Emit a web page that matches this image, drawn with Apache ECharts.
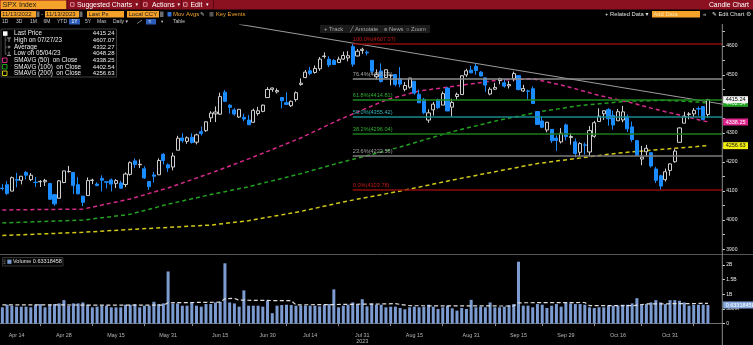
<!DOCTYPE html>
<html>
<head>
<meta charset="utf-8">
<title>SPX Index - Candle Chart</title>
<script src="https://cdn.jsdelivr.net/npm/echarts@6/dist/echarts.min.js"></script>
<style>
  html, body { margin: 0; padding: 0; background: #000; overflow: hidden; }
  #chart { width: 753px; height: 345px; }
</style>
</head>
<body>
<div id="chart"></div>
<script>
// ---------------------------------------------------------------------------
// Sessions (2023, month/day). The last three slots stay empty at the right edge.
const days = [
  '4/11','4/12','4/13','4/14','4/17','4/18','4/19','4/20','4/21','4/24','4/25','4/26','4/27','4/28',
  '5/1','5/2','5/3','5/4','5/5','5/8','5/9','5/10','5/11','5/12','5/15','5/16','5/17','5/18','5/19','5/22','5/23','5/24','5/25','5/26','5/30','5/31',
  '6/1','6/2','6/5','6/6','6/7','6/8','6/9','6/12','6/13','6/14','6/15','6/16','6/20','6/21','6/22','6/23','6/26','6/27','6/28','6/29','6/30',
  '7/3','7/5','7/6','7/7','7/10','7/11','7/12','7/13','7/14','7/17','7/18','7/19','7/20','7/21','7/24','7/25','7/26','7/27','7/28','7/31',
  '8/1','8/2','8/3','8/4','8/7','8/8','8/9','8/10','8/11','8/14','8/15','8/16','8/17','8/18','8/21','8/22','8/23','8/24','8/25','8/28','8/29','8/30','8/31',
  '9/1','9/5','9/6','9/7','9/8','9/11','9/12','9/13','9/14','9/15','9/18','9/19','9/20','9/21','9/22','9/25','9/26','9/27','9/28','9/29',
  '10/2','10/3','10/4','10/5','10/6','10/9','10/10','10/11','10/12','10/13','10/16','10/17','10/18','10/19','10/20','10/23','10/24','10/25','10/26','10/27','10/30','10/31',
  '11/1','11/2','11/3','11/6','11/7','11/8','11/9','11/10',
  '11/13','11/14','11/15'
];

// Daily OHLC, one value per traded session
const opens = [
  4110.29,4121.72,4100.04,4140.11,4137.17,4164.26,4139.33,4130.48,4132.14,4132.07,4126.43,4087.78,4075.29,4129.63,
  4166.79,4164.10,4122.25,4082.61,4084.73,4136.98,4124.25,4143.74,4132.24,4138.54,4126.65,4127.95,4122.85,4157.68,4204.15,4190.78,4176.80,4132.96,4155.71,4156.16,4226.71,4190.74,
  4183.03,4241.01,4282.99,4271.34,4285.47,4268.69,4304.88,4308.32,4352.61,4366.29,4365.33,4440.95,4396.11,4380.01,4355.40,4354.17,4344.84,4337.36,4367.48,4374.94,4422.44,
  4450.48,4442.04,4422.62,4404.54,4394.23,4415.55,4467.69,4491.50,4514.61,4508.86,4521.78,4563.87,4554.38,4550.16,4543.39,4555.19,4558.96,4598.26,4565.75,4584.82,
  4578.83,4550.93,4494.27,4513.96,4491.58,4498.03,4501.57,4487.16,4450.69,4458.13,4478.87,4433.79,4416.32,4344.88,4380.28,4415.33,4396.44,4455.16,4389.38,4426.03,4432.75,4500.34,4517.01,
  4530.60,4510.06,4490.35,4434.55,4451.30,4480.98,4473.27,4462.65,4487.78,4497.98,4445.13,4445.41,4452.81,4374.36,4341.74,4310.62,4312.88,4282.63,4269.65,4328.18,
  4284.52,4269.75,4233.83,4259.31,4234.79,4289.02,4339.75,4366.59,4380.94,4360.49,4342.37,4345.23,4357.35,4321.36,4273.85,4210.40,4235.79,4232.42,4175.99,4152.93,4139.39,4171.33,
  4201.27,4268.26,4334.23,4364.27,4366.21,4384.37,4391.41,4364.15
];
const highs = [
  4124.26,4134.37,4150.26,4163.19,4151.72,4169.48,4162.57,4148.57,4138.02,4142.41,4126.43,4089.67,4138.24,4170.06,
  4186.92,4164.10,4148.30,4082.61,4147.02,4142.30,4130.35,4154.28,4132.80,4143.74,4141.25,4135.54,4164.67,4202.20,4212.91,4209.22,4185.68,4132.96,4165.74,4212.87,4231.10,4195.44,
  4232.43,4290.67,4299.28,4288.33,4299.19,4298.01,4322.62,4340.13,4375.37,4391.82,4439.20,4448.47,4400.15,4386.22,4382.25,4366.55,4362.06,4384.42,4390.35,4398.39,4458.48,
  4456.46,4454.06,4422.62,4440.39,4412.60,4443.64,4488.34,4517.38,4527.76,4532.85,4562.30,4578.43,4564.74,4555.00,4563.41,4580.62,4582.47,4607.07,4590.16,4594.22,
  4584.62,4550.93,4519.49,4540.34,4519.84,4503.31,4502.44,4527.37,4476.23,4490.33,4478.87,4449.95,4421.17,4381.82,4407.55,4418.59,4443.18,4458.30,4418.46,4439.56,4500.14,4521.65,4532.26,
  4541.25,4514.29,4490.35,4457.81,4473.53,4490.77,4487.11,4479.39,4511.99,4497.98,4466.36,4449.85,4461.03,4375.70,4357.40,4338.51,4313.01,4292.07,4317.27,4333.15,
  4300.58,4281.15,4268.50,4267.13,4324.10,4341.73,4385.46,4378.64,4385.85,4377.10,4383.33,4393.57,4364.20,4339.54,4276.56,4255.84,4259.38,4232.42,4183.60,4156.70,4177.47,4195.55,
  4245.64,4319.72,4373.62,4372.21,4386.26,4391.20,4393.40,4418.03
];
const lows = [
  4102.61,4086.94,4099.40,4113.20,4123.18,4140.36,4134.49,4114.57,4113.86,4117.77,4071.38,4049.35,4075.29,4127.18,
  4164.12,4089.72,4088.86,4048.28,4084.73,4123.81,4116.65,4098.92,4109.29,4099.12,4110.27,4109.86,4113.62,4153.50,4180.20,4179.68,4142.54,4103.98,4129.73,4156.16,4192.18,4166.15,
  4171.64,4241.01,4266.82,4263.09,4263.96,4261.07,4291.70,4304.37,4337.71,4337.85,4362.60,4407.44,4367.19,4360.14,4351.82,4341.34,4328.08,4335.00,4360.22,4371.97,4422.44,
  4442.29,4436.61,4385.05,4397.40,4389.92,4408.46,4463.23,4489.36,4499.56,4504.90,4514.59,4557.48,4527.56,4535.79,4541.29,4552.42,4547.58,4528.56,4564.01,4573.14,
  4567.53,4505.75,4485.54,4474.55,4491.15,4464.39,4461.33,4457.92,4443.98,4453.44,4432.19,4403.55,4364.83,4335.31,4360.30,4382.77,4396.44,4375.55,4356.29,4414.98,4431.68,4493.59,4507.39,
  4501.35,4496.01,4442.38,4430.46,4448.38,4467.89,4456.83,4453.52,4478.69,4447.21,4442.11,4416.61,4401.38,4329.17,4316.49,4302.70,4265.98,4238.63,4264.38,4274.86,
  4260.21,4216.45,4220.48,4225.91,4219.55,4283.79,4339.64,4345.34,4325.43,4311.97,4342.37,4337.54,4303.84,4269.69,4223.03,4189.22,4219.43,4181.42,4127.90,4103.78,4132.94,4153.12,
  4197.74,4268.26,4334.23,4347.53,4355.41,4359.76,4343.94,4353.34
];
const closes = [
  4108.94,4091.95,4146.22,4137.64,4151.32,4154.87,4154.52,4129.79,4133.52,4137.04,4071.63,4055.99,4135.35,4169.48,
  4167.87,4119.58,4090.75,4061.22,4136.25,4138.12,4119.17,4137.64,4130.62,4124.08,4136.28,4109.90,4158.77,4198.05,4191.98,4192.63,4145.58,4115.24,4151.28,4205.45,4205.52,4179.83,
  4221.02,4282.37,4273.79,4283.85,4267.52,4293.93,4298.86,4338.93,4369.01,4372.59,4425.84,4409.59,4388.71,4365.69,4381.89,4348.33,4328.82,4378.41,4376.86,4396.44,4450.38,
  4455.59,4446.82,4411.59,4398.95,4409.53,4439.26,4472.16,4510.04,4505.42,4522.79,4554.98,4565.72,4534.87,4536.34,4554.64,4567.46,4566.75,4537.41,4582.23,4588.96,
  4576.73,4513.39,4501.89,4478.03,4518.44,4499.38,4467.71,4468.83,4464.05,4489.72,4437.86,4404.33,4370.36,4369.71,4399.77,4387.55,4436.01,4376.31,4405.71,4433.31,4497.63,4514.87,4507.66,
  4515.77,4496.83,4465.48,4451.14,4457.49,4487.46,4461.90,4467.44,4505.10,4450.32,4453.53,4443.95,4402.20,4330.00,4320.06,4337.44,4273.53,4274.51,4299.70,4288.05,
  4288.39,4229.45,4263.75,4258.19,4308.50,4335.66,4358.24,4376.95,4349.61,4327.78,4373.63,4373.20,4314.60,4278.00,4224.16,4217.04,4247.68,4186.77,4137.23,4117.37,4166.82,4193.80,
  4237.86,4317.78,4358.34,4365.98,4378.38,4382.78,4347.35,4415.24
];

// Session volume, billions
const volumes = [
  0.556,0.644,0.611,0.578,0.578,0.578,0.556,0.644,0.667,0.556,0.644,0.667,0.689,0.800,
  0.611,0.689,0.689,0.722,0.644,0.556,0.578,0.611,0.611,0.556,0.556,0.556,0.644,0.644,0.667,0.556,0.611,0.611,0.744,0.667,0.689,1.778,
  0.689,0.689,0.611,0.611,0.722,0.611,0.578,0.667,0.667,0.722,0.744,2.056,0.722,0.689,0.578,1.133,0.611,0.611,0.611,0.578,0.778,
  0.356,0.611,0.633,0.644,0.633,0.611,0.611,0.611,0.611,0.611,0.589,0.644,0.667,1.167,0.556,0.611,0.644,0.722,0.667,0.833,
  0.589,0.689,0.644,0.644,0.556,0.578,0.578,0.533,0.489,0.556,0.578,0.556,0.578,0.644,0.578,0.500,0.556,0.611,0.522,0.444,0.533,0.500,0.811,
  0.556,0.578,0.556,0.722,0.556,0.556,0.578,0.633,0.667,2.111,0.611,0.611,0.556,0.667,0.644,0.533,0.611,0.667,0.578,0.722,
  0.689,0.667,0.667,0.644,0.556,0.533,0.556,0.556,0.611,0.611,0.611,0.644,0.644,0.689,0.867,0.644,0.667,0.722,0.800,0.722,0.667,0.800,
  0.800,0.778,0.722,0.611,0.644,0.644,0.644,0.63318458
];

// Simple moving averages on close (sampled sessions)
const sma50 = [
  ['4/11',4035],['5/4',4038],['5/18',4073],['5/31',4111],['6/13',4162],['6/26',4211],['7/12',4283],
  ['7/24',4345],['8/7',4414],['8/16',4445],['9/11',4483],['9/20',4487],['9/28',4466],['10/10',4430],
  ['10/19',4404],['10/25',4386],['11/2',4362],['11/10',4338.25]
];
const sma100 = [
  ['4/11',3990],['5/4',4000],['5/18',4020],['5/31',4055],['6/13',4088],['6/26',4115],['7/12',4160],
  ['7/24',4197],['8/10',4252],['8/25',4305],['9/11',4345],['9/22',4375],['10/4',4395],['10/18',4410],
  ['10/30',4413],['11/8',4407],['11/10',4402.54]
];
const sma200 = [
  ['4/11',3947],['5/4',3958],['5/18',3968],['5/31',3975],['6/13',3983],['6/26',3998],['7/12',4030],
  ['7/26',4066],['8/10',4100],['8/25',4138],['9/11',4170],['9/21',4195],['10/2',4210],['10/16',4231],
  ['10/30',4245],['11/10',4256.63]
];
// Volume moving average (sampled sessions)
const volumeAvg = [
  ['4/11',0.64],['4/25',0.64],['5/9',0.63],['5/30',0.63],['5/31',0.71],['6/15',0.73],['6/16',0.85],
  ['6/21',0.86],['6/22',0.80],['7/10',0.78],['7/11',0.64],['7/21',0.65],['8/4',0.67],['8/9',0.68],
  ['8/14',0.61],['9/14',0.60],['9/15',0.71],['10/5',0.72],['10/6',0.61],['10/19',0.61],['10/24',0.67],
  ['11/10',0.69]
];

// Fibonacci retracement between the 7/27 high and the 10/27 low
const fibStart = '7/27';
const fibPct = [100, 76.4, 61.8, 50, 38.2, 23.6, 0];
const fibLevel = [4607.07, 4488.29, 4414.81, 4355.42, 4296.04, 4222.56, 4103.78];

// Falling trend line drawn from the summer highs
const trendLine = [['6/22', 4675], ['11/15', 4400]];

// Statistics panel
const averagePrice = 4332.27;

// Axis labelling
const labelDays = ['4/14','4/28','5/15','5/31','6/15','6/30','7/14','7/31','8/15','8/31','9/15','9/29','10/16','10/31'];
const tickDays = ['4/21','5/8','5/23','6/7','6/22','7/7','7/24','8/8','8/23','9/8','9/22','10/9','10/23','11/7'];
const yearDay = '7/31';
const yearText = '2023';
const priceLabels = [3900, 4000, 4100, 4200, 4300, 4400, 4500, 4600];
const priceTicks = [3900, 3950, 4000, 4050, 4100, 4150, 4200, 4250, 4300, 4350, 4400, 4450, 4500, 4550, 4600, 4650];
const volumeLabels = [0, 0.5, 1, 1.5, 2];
const volumeLabelText = ['0', '500M', '1B', '1.5B', '2B'];

// ---------------------------------------------------------------------------
const UI_FONT = '"Liberation Sans", "DejaVu Sans", sans-serif';
const MONTHS = ['Jan','Feb','Mar','Apr','May','Jun','Jul','Aug','Sep','Oct','Nov','Dec'];
const edgeDay = days[days.length - 1];
const n = closes.length;

const candles = closes.map((c, i) => [opens[i], c, lows[i], highs[i]]);
const lastClose = closes[n - 1];
let hiIdx = 0, loIdx = 0;
highs.forEach((h, i) => { if (h > highs[hiIdx]) hiIdx = i; });
lows.forEach((l, i) => { if (l < lows[loIdx]) loIdx = i; });
const mmddyy = d => { const [m, dd] = d.split('/'); return m.padStart(2, '0') + '/' + dd.padStart(2, '0') + '/23'; };
const last = arr => arr[arr.length - 1][1];

const labelSet = new Set(labelDays);
const tickSet = new Set(tickDays);

const fibLineColor = ['#8e0b0b', '#8c8c8c', '#1d8a1d', '#178a8a', '#1d7d1d', '#7c7c7c', '#8e0b0b'];
const fibTextColor = ['#c41a1a', '#a8a8a8', '#2cb02c', '#2fb5b5', '#2cb02c', '#a0a0a0', '#c41a1a'];

const fibLines = fibLevel.map((v, i) => [
  { coord: [fibStart, v], lineStyle: { color: fibLineColor[i], width: 1.6, type: 'solid' },
    label: { show: true, position: 'insideStartTop', distance: [0, 1.5],
      formatter: fibPct[i].toFixed(1) + '%(' + v.toFixed(2) + ')',
      color: fibTextColor[i], fontSize: 5.6, fontFamily: UI_FONT } },
  { coord: [edgeDay, v] }
]);

function edgeTag(value, text, bg, fg, z) {
  return {
    symbol: 'rect', symbolSize: 0, silent: true, z: z,
    label: { show: true, position: 'right', distance: 1, formatter: '{b}',
      backgroundColor: bg, color: fg, fontSize: 5.5, fontFamily: UI_FONT,
      padding: [1, 2.5, 0.5, 2.5], lineHeight: 5.5 },
    data: [{ coord: [edgeDay, value], name: text }]
  };
}

// ---------------------------------------------------------------------------
// Terminal chrome: title bar, controls, statistics panel
function txt(x, y, s, color, size, align) {
  return { type: 'text', x: x, y: y, silent: true, z: 100,
    style: { text: s, fill: color, font: size + 'px ' + UI_FONT,
      textAlign: align || 'left', textVerticalAlign: 'middle' } };
}
function box(x, y, w, h, fill, stroke, lw) {
  return { type: 'rect', silent: true, z: 100, shape: { x: x, y: y, width: w, height: h },
    style: { fill: fill, stroke: stroke || null, lineWidth: stroke ? (lw || 1) : 0 } };
}
function seg(x1, y1, x2, y2, color, w) {
  return { type: 'line', silent: true, z: 100, shape: { x1: x1, y1: y1, x2: x2, y2: y2 },
    style: { stroke: color, lineWidth: w || 1 } };
}

const ORANGE = '#f5a22a';
const graphics = [
  // title bar
  box(0, 0, 753, 9.5, '#8b1121'),
  box(0.5, 0.5, 66, 8.5, ORANGE),
  txt(2.5, 5, 'SPX Index', '#1a1a1a', 7.2),
  seg(67, 0, 67, 9.5, '#5a0812'), seg(141, 0, 141, 9.5, '#5a0812'),
  seg(181.5, 0, 181.5, 9.5, '#5a0812'), seg(213.5, 0, 213.5, 9.5, '#5a0812'),
  box(70.5, 2.7, 3.6, 3.6, null, '#e9a5ad', 0.8), txt(77, 5, 'Suggested Charts', '#ffffff', 6.9), txt(135.5, 5, '\u25BE', '#ffffff', 5),
  box(143.5, 2.7, 3.6, 3.6, null, '#e9a5ad', 0.8), txt(152, 5, 'Actions', '#ffffff', 6.9), txt(177.5, 5, '\u25BE', '#ffffff', 5),
  box(183.5, 2.7, 3.6, 3.6, null, '#e9a5ad', 0.8), txt(190.5, 5, 'Edit', '#ffffff', 6.9), txt(206, 5, '\u25BE', '#ffffff', 5),
  txt(749, 5, 'Candle Chart', '#ffffff', 6.8, 'right'),
  // control row
  box(1, 11, 35, 6.5, ORANGE), txt(2, 14.3, '11/13/2022', '#1a1a1a', 6),
  box(36.5, 11.5, 3, 5.5, '#6c6c6c'), txt(41, 14.3, '-', '#cccccc', 6),
  box(45, 11, 34, 6.5, ORANGE), txt(46, 14.3, '11/13/2023', '#1a1a1a', 6),
  box(79.5, 11.5, 3, 5.5, '#6c6c6c'),
  box(87, 11, 37, 6.5, ORANGE), txt(88.5, 14.3, 'Last Px', '#1a1a1a', 6),
  box(127, 11, 32, 6.5, ORANGE), txt(128.5, 14.3, 'Local CCY', '#1a1a1a', 6),
  box(160, 11.5, 3.5, 5.5, '#6c6c6c'),
  box(167.5, 12, 4, 4.5, '#2f6fd6'), txt(173, 14.3, 'Mov Avgs', ORANGE, 6), txt(200, 14.3, '\u270E', '#dddddd', 5.5),
  box(209.5, 12, 4, 4.5, '#555555'), txt(216, 14.3, 'Key Events', ORANGE, 5.8),
  txt(605, 14.3, '+ Related Data \u25BE', '#e0e0e0', 5.8),
  box(652, 11, 48, 6.5, ORANGE), txt(653.5, 14.3, 'Add Data', '#ffe2a8', 5.8),
  txt(703, 14.3, '\u00AB', '#cccccc', 6),
  txt(712, 14.3, '\u270E Edit Chart', '#e0e0e0', 5.8),
  txt(746, 14.3, '\u2699', '#cccccc', 6),
  // range row
  txt(2, 21.7, '1D', '#c8c8c8', 5), txt(16, 21.7, '3D', '#c8c8c8', 5), txt(30, 21.7, '1M', '#c8c8c8', 5),
  txt(43.5, 21.7, '6M', '#c8c8c8', 5), txt(57, 21.7, 'YTD', '#c8c8c8', 5),
  box(69, 19, 11, 5.5, '#2a5cb8'), txt(71.5, 21.7, '1Y', '#ffffff', 5),
  txt(85, 21.7, '5Y', '#c8c8c8', 5), txt(97, 21.7, 'Max', '#c8c8c8', 5), txt(113, 21.7, 'Daily \u25BE', '#c8c8c8', 5),
  seg(137, 23.5, 142, 20, '#9a9a9a', 0.8),
  box(146, 19, 10, 5.5, '#2a5cb8'), txt(148.5, 21.7, '\u2248', '#ffffff', 5),
  txt(161, 21.7, '\u25BE', '#c8c8c8', 4.5), txt(173, 21.7, 'Table', '#c8c8c8', 5),
  // chart toolbar
  box(320, 25, 110, 8, '#1b1b1b'),
  txt(324, 29, '+ Track', '#a8a8a8', 5.8), txt(350, 29, '\u2571 Annotate', '#a8a8a8', 5.8),
  txt(384, 29, '\u2261 News', '#a8a8a8', 5.8), txt(406, 29, '\u25CB Zoom', '#a8a8a8', 5.8),
  // pane separator and price scale spine
  seg(0, 254.5, 753, 254.5, '#555555'),
  seg(722.3, 24, 722.3, 345, '#8a8a8a'),
  // statistics panel
  box(1, 29, 115.5, 48, '#000000', '#3c3c3c'),
  box(3, 31.3, 4.5, 4.5, '#ffffff'),
  seg(5.2, 36, 5.2, 54.5, '#6a6a6a', 0.8),
  seg(5.2, 40, 7, 40, '#6a6a6a', 0.8), seg(7, 38, 11, 38, '#bbbbbb', 0.8), seg(9, 38, 9, 42, '#bbbbbb', 0.8),
  seg(5.2, 47, 7, 47, '#6a6a6a', 0.8), seg(7.5, 47, 10.5, 47, '#bbbbbb', 0.8), seg(9, 45.5, 9, 48.5, '#bbbbbb', 0.8),
  seg(5.2, 54, 7, 54, '#6a6a6a', 0.8), seg(9, 51.5, 9, 55.5, '#bbbbbb', 0.8), seg(7, 55.5, 11, 55.5, '#bbbbbb', 0.8),
  box(2.5, 58, 4.5, 4.5, null, '#d62a8a', 1),
  box(2.5, 64.5, 4.5, 4.5, null, '#22a022', 1),
  box(2.5, 71, 4.5, 4.5, null, '#d2c816', 1),
  txt(14, 33.5, 'Last Price', '#ececec', 6.3), txt(114.5, 33.5, lastClose.toFixed(2), '#ececec', 6, 'right'),
  txt(14, 40.2, 'High on ' + mmddyy(days[hiIdx]), '#ececec', 6.3), txt(114.5, 40.2, highs[hiIdx].toFixed(2), '#ececec', 6, 'right'),
  txt(14, 46.9, 'Average', '#ececec', 6.3), txt(114.5, 46.9, averagePrice.toFixed(2), '#ececec', 6, 'right'),
  txt(14, 53.6, 'Low on ' + mmddyy(days[loIdx]), '#ececec', 6.3), txt(114.5, 53.6, lows[loIdx].toFixed(2), '#ececec', 6, 'right'),
  txt(14, 60.3, 'SMAVG (50)  on Close', '#ececec', 6.3), txt(114.5, 60.3, last(sma50).toFixed(2), '#ececec', 6, 'right'),
  txt(14, 67, 'SMAVG (100)  on Close', '#ececec', 6.3), txt(114.5, 67, last(sma100).toFixed(2), '#ececec', 6, 'right'),
  txt(14, 73.7, 'SMAVG (200)  on Close', '#ececec', 6.3), txt(114.5, 73.7, last(sma200).toFixed(2), '#ececec', 6, 'right'),
  // volume panel caption
  box(2.5, 257.5, 60.5, 8.5, '#060606', '#333333'),
  seg(3.5, 260, 5.5, 260, '#888888', 0.7), seg(3.5, 261.8, 5.5, 261.8, '#888888', 0.7), seg(3.5, 263.6, 5.5, 263.6, '#888888', 0.7),
  box(7.3, 259.6, 4.2, 4.2, '#7d9dd2'),
  txt(13, 261.8, 'Volume ' + volumes[n - 1], '#e0e0e0', 5.5)
];

// ---------------------------------------------------------------------------
const chart = echarts.init(document.getElementById('chart'), null, { renderer: 'canvas', width: 753, height: 345 });

const option = {
  backgroundColor: '#000000',
  animation: false,
  textStyle: { fontFamily: UI_FONT },
  grid: [
    { left: -0.6, right: 28.5, top: 25, height: 229 },
    { left: -0.6, right: 28.5, top: 257, height: 74 }
  ],
  xAxis: [
    { type: 'category', gridIndex: 0, data: days, boundaryGap: true,
      axisLine: { show: false }, axisTick: { show: false }, axisLabel: { show: false }, splitLine: { show: false } },
    { type: 'category', gridIndex: 1, data: days, boundaryGap: true,
      axisLine: { show: true, lineStyle: { color: '#6e6e6e', width: 1 } },
      axisTick: { show: true, alignWithLabel: true, length: 2.5, lineStyle: { color: '#8a8a8a' },
        interval: (i, v) => tickSet.has(v) },
      axisLabel: { show: true, color: '#b8b8b8', fontSize: 5.4, fontFamily: UI_FONT, margin: 2.5, lineHeight: 6.5,
        interval: (i, v) => labelSet.has(v),
        formatter: v => { const [m, d] = v.split('/'); const t = MONTHS[+m - 1] + ' ' + d; return v === yearDay ? t + '\n' + yearText : t; } },
      splitLine: { show: false } }
  ],
  yAxis: [
    { type: 'value', gridIndex: 0, position: 'right', offset: -2.2, min: 3883.2, max: 4672.6,
      splitLine: { show: false }, axisLine: { show: false },
      axisTick: { show: true, length: 2.5, lineStyle: { color: '#dddddd' }, customValues: priceTicks },
      axisLabel: { color: '#e8e8e8', fontSize: 5, fontFamily: UI_FONT, margin: 4, customValues: priceLabels,
        formatter: v => String(v) } },
    { type: 'value', gridIndex: 1, position: 'right', offset: -2.2, min: -0.2, max: 2.27,
      splitLine: { show: false }, axisLine: { show: false },
      axisTick: { show: true, length: 2.5, lineStyle: { color: '#dddddd' }, customValues: volumeLabels },
      axisLabel: { color: '#e8e8e8', fontSize: 5, fontFamily: UI_FONT, margin: 4, customValues: volumeLabels,
        formatter: v => volumeLabelText[volumeLabels.indexOf(v)] } }
  ],
  graphic: graphics,
  series: [
    { name: 'SMAVG (200)', type: 'line', xAxisIndex: 0, yAxisIndex: 0, data: sma200, symbol: 'none', silent: true,
      lineStyle: { color: '#d2c816', width: 1.5, type: [4, 3] }, z: 3,
      markPoint: edgeTag(last(sma200), last(sma200).toFixed(2), '#f2ee10', '#111111', 6) },
    { name: 'SMAVG (100)', type: 'line', xAxisIndex: 0, yAxisIndex: 0, data: sma100, symbol: 'none', silent: true,
      lineStyle: { color: '#22a022', width: 1.5, type: [4, 3] }, z: 3,
      markPoint: edgeTag(last(sma100), last(sma100).toFixed(2), '#22a022', '#e8ffe8', 6) },
    { name: 'SMAVG (50)', type: 'line', xAxisIndex: 0, yAxisIndex: 0, data: sma50, symbol: 'none', silent: true,
      lineStyle: { color: '#d62a8a', width: 1.5, type: [4, 3] }, z: 3,
      markPoint: edgeTag(last(sma50), last(sma50).toFixed(2), '#e0268e', '#ffffff', 6) },
    { name: 'Trend', type: 'line', xAxisIndex: 0, yAxisIndex: 0, data: trendLine, symbol: 'none', silent: true, clip: true,
      lineStyle: { color: '#9c9c9c', width: 1 }, z: 3 },
    { name: 'SPX Index', type: 'candlestick', xAxisIndex: 0, yAxisIndex: 0, data: candles, barWidth: 3.6, silent: true, z: 4,
      itemStyle: { color: '#000000', color0: '#1b8cff', borderColor: '#cfcfcf', borderColor0: '#1b8cff', borderWidth: 1 },
      markLine: { silent: true, symbol: 'none', animation: false, data: fibLines },
      markPoint: edgeTag(lastClose, lastClose.toFixed(2), '#f4f4f4', '#000000', 8) },
    { name: 'Volume', type: 'bar', xAxisIndex: 1, yAxisIndex: 1, data: volumes, barWidth: 3, silent: true,
      itemStyle: { color: '#7b9bd1' },
      markPoint: edgeTag(volumes[n - 1], String(volumes[n - 1]), '#86a9de', '#ffffff', 8) },
    { name: 'Volume avg', type: 'line', xAxisIndex: 1, yAxisIndex: 1, data: volumeAvg, symbol: 'none', silent: true,
      lineStyle: { color: '#dedede', width: 1.2, type: [4, 2.5] }, z: 3 }
  ]
};

chart.setOption(option);
</script>
</body>
</html>
